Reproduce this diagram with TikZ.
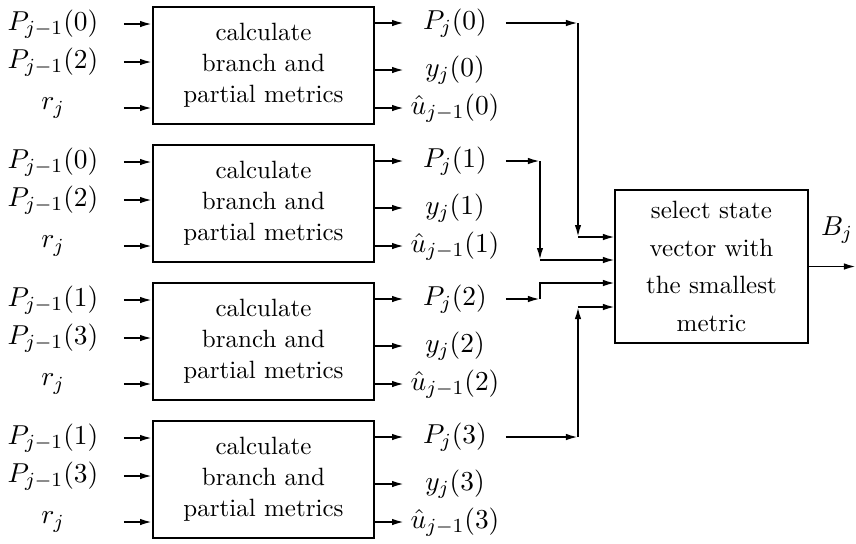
\documentclass[tikz,border=0pt]{standalone}
\usetikzlibrary{arrows.meta}

\begin{document}
\begin{tikzpicture}[x=0.4pt, y=-0.4pt, line width=0.75pt, >={Latex[length=4.8pt,width=2.6pt]},
  calcbox/.style={draw, minimum width=88.4pt, minimum height=46.8pt, align=center, execute at begin node=\setlength{\baselineskip}{12.4pt}},
  selbox/.style={draw, minimum width=77.2pt, minimum height=61.2pt, align=center, execute at begin node=\setlength{\baselineskip}{15pt}},
  inlab/.style={minimum width=56pt, inner sep=0pt, font=\fontsize{10.8}{13}\selectfont},
  outlab/.style={minimum width=40pt, inner sep=0pt, font=\fontsize{10.8}{13}\selectfont}]
\useasboundingbox (0,0) rectangle (856,543);
% four metric blocks
\node[calcbox] (box0) at (263.5,65.5) {calculate\\ branch and\\ partial metrics};
\node[calcbox] (box1) at (263.5,203.5) {calculate\\ branch and\\ partial metrics};
\node[calcbox] (box2) at (263.5,341.5) {calculate\\ branch and\\ partial metrics};
\node[calcbox] (box3) at (263.5,479.5) {calculate\\ branch and\\ partial metrics};
% inputs
\node[inlab] (pa0) at (53,24) {$P_{j-1}(0)$};
\node[inlab] (pb0) at (53,62) {$P_{j-1}(2)$};
\node[inlab] (r0) at (53,108) {$r_j$};
\node[inlab] (pa1) at (53,162) {$P_{j-1}(0)$};
\node[inlab] (pb1) at (53,200) {$P_{j-1}(2)$};
\node[inlab] (r1) at (53,246) {$r_j$};
\node[inlab] (pa2) at (53,300) {$P_{j-1}(1)$};
\node[inlab] (pb2) at (53,338) {$P_{j-1}(3)$};
\node[inlab] (r2) at (53,384) {$r_j$};
\node[inlab] (pa3) at (53,438) {$P_{j-1}(1)$};
\node[inlab] (pb3) at (53,476) {$P_{j-1}(3)$};
\node[inlab] (r3) at (53,522) {$r_j$};
% outputs
\node[outlab] (pj0) at (455,23) {$P_j(0)$};
\node[outlab] (yj0) at (455,70) {$y_j(0)$};
\node[outlab] (uj0) at (455,108) {$\hat{u}_{j-1}(0)$};
\node[outlab] (pj1) at (455,161) {$P_j(1)$};
\node[outlab] (yj1) at (455,208) {$y_j(1)$};
\node[outlab] (uj1) at (455,246) {$\hat{u}_{j-1}(1)$};
\node[outlab] (pj2) at (455,299) {$P_j(2)$};
\node[outlab] (yj2) at (455,346) {$y_j(2)$};
\node[outlab] (uj2) at (455,384) {$\hat{u}_{j-1}(2)$};
\node[outlab] (pj3) at (455,437) {$P_j(3)$};
\node[outlab] (yj3) at (455,484) {$y_j(3)$};
\node[outlab] (uj3) at (455,522) {$\hat{u}_{j-1}(3)$};
% selector
\node[selbox] (sel) at (711.5,266.5) {select state\\ vector with\\ the smallest\\ metric};
\node[font=\fontsize{10.8}{13}\selectfont] (bj) at (837,230) {$B_j$};
\coordinate (out) at (856,266.5);
\coordinate (colA) at (578,0);
\coordinate (colB) at (540,0);
\coordinate (e0) at (615,237);
\coordinate (e1) at (615,260);
\coordinate (e2) at (615,283);
\coordinate (e3) at (615,307);

\draw[->] (pa0.east) -- (pa0 -| box0.west);
\draw[->] (pb0.east) -- (pb0 -| box0.west);
\draw[->] (r0.east) -- (r0 -| box0.west);
\draw[->] (pa1.east) -- (pa1 -| box1.west);
\draw[->] (pb1.east) -- (pb1 -| box1.west);
\draw[->] (r1.east) -- (r1 -| box1.west);
\draw[->] (pa2.east) -- (pa2 -| box2.west);
\draw[->] (pb2.east) -- (pb2 -| box2.west);
\draw[->] (r2.east) -- (r2 -| box2.west);
\draw[->] (pa3.east) -- (pa3 -| box3.west);
\draw[->] (pb3.east) -- (pb3 -| box3.west);
\draw[->] (r3.east) -- (r3 -| box3.west);

\draw[->] (pj0 -| box0.east) -- (pj0.west);
\draw[->] (yj0 -| box0.east) -- (yj0.west);
\draw[->] (uj0 -| box0.east) -- (uj0.west);
\draw[->] (pj1 -| box1.east) -- (pj1.west);
\draw[->] (yj1 -| box1.east) -- (yj1.west);
\draw[->] (uj1 -| box1.east) -- (uj1.west);
\draw[->] (pj2 -| box2.east) -- (pj2.west);
\draw[->] (yj2 -| box2.east) -- (yj2.west);
\draw[->] (uj2 -| box2.east) -- (uj2.west);
\draw[->] (pj3 -| box3.east) -- (pj3.west);
\draw[->] (yj3 -| box3.east) -- (yj3.west);
\draw[->] (uj3 -| box3.east) -- (uj3.west);

% routing to the selector
\draw[->] (pj0.east) -- (pj0 -| colA);
\draw[->] (pj0 -| colA) -- (colA |- e0);
\draw[->] (colA |- e0) -- (e0);
\draw[->] (pj1.east) -- (pj1 -| colB);
\draw[->] (pj1 -| colB) -- (colB |- e1);
\draw[->] (colB |- e1) -- (e1);
\draw[->] (pj2.east) -- (pj2 -| colB);
\draw[->] (pj2 -| colB) -- (colB |- e2) -- (e2);
\draw[->] (pj3.east) -- (pj3 -| colA);
\draw[->] (pj3 -| colA) -- (colA |- e3);
\draw[->] (colA |- e3) -- (e3);
\draw[->] (sel.east) -- (out);
\end{tikzpicture}
\end{document}
